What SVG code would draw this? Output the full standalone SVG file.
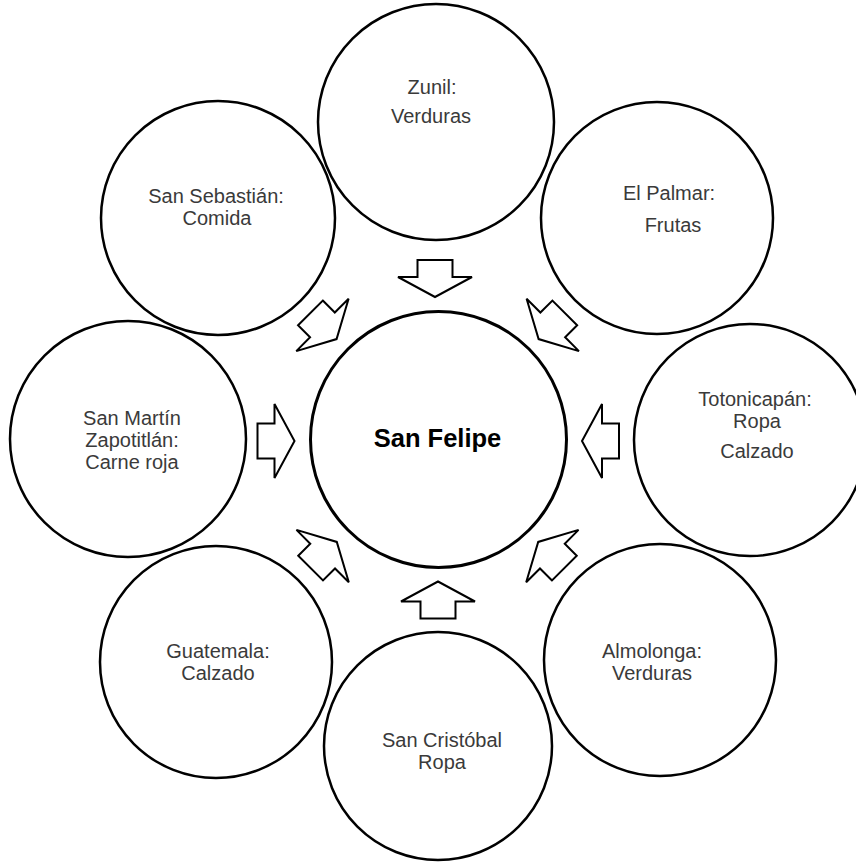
<svg xmlns="http://www.w3.org/2000/svg" width="856" height="863" viewBox="0 0 856 863">
<style>
.c{fill:#fff;stroke:#000;stroke-width:2.5}
.cc{fill:#fff;stroke:#000;stroke-width:3}
.t{font-family:"Liberation Sans",Arial,sans-serif;font-size:20px;fill:#3a3a3a;text-anchor:middle}
.b{font-family:"Liberation Sans",Arial,sans-serif;font-size:25.5px;font-weight:bold;fill:#000;text-anchor:middle}
.a{fill:#fff;stroke:#000;stroke-width:2;stroke-linejoin:miter}
</style>
<defs>
<path id="arr" d="M -18.5,-17.5 H -1.5 V -37 L 18.5,0 L -1.5,37 V 17.5 H -18.5 Z"/>
</defs>
<rect width="856" height="863" fill="#fff"/>
<g id="zunil"><circle class="c" cx="436" cy="122" r="118"/>
<text class="t" x="432" y="94">Zunil:</text><text class="t" x="431" y="123">Verduras</text></g>
<g id="el-palmar"><circle class="c" cx="657" cy="218" r="116"/>
<text class="t" x="669" y="200">El Palmar:</text><text class="t" x="673" y="232">Frutas</text></g>
<g id="totonicapan"><circle class="c" cx="750" cy="440" r="116"/>
<text class="t" x="755" y="406">Totonicapán:</text><text class="t" x="757" y="428">Ropa</text><text class="t" x="757" y="458">Calzado</text></g>
<g id="almolonga"><circle class="c" cx="660" cy="660" r="116"/>
<text class="t" x="652" y="658">Almolonga:</text><text class="t" x="652" y="680">Verduras</text></g>
<g id="san-cristobal"><circle class="c" cx="438" cy="746" r="114"/>
<text class="t" x="442" y="747">San Cristóbal</text><text class="t" x="442" y="769">Ropa</text></g>
<g id="guatemala"><circle class="c" cx="216" cy="662" r="116"/>
<text class="t" x="218" y="658">Guatemala:</text><text class="t" x="218" y="680">Calzado</text></g>
<g id="san-martin"><circle class="c" cx="128" cy="439" r="118"/>
<text class="t" x="132" y="425">San Martín</text><text class="t" x="132" y="447">Zapotitlán:</text><text class="t" x="132" y="469">Carne roja</text></g>
<g id="san-sebastian"><circle class="c" cx="218" cy="218" r="117"/>
<text class="t" x="216" y="203">San Sebastián:</text><text class="t" x="217" y="225">Comida</text></g>
<g id="san-felipe"><circle class="cc" cx="438.5" cy="439.5" r="128"/>
<text class="b" x="437.5" y="447">San Felipe</text></g>
<g id="connectors">
<use href="#arr" class="a" transform="translate(435,278.5) rotate(90)"/>
<use href="#arr" class="a" transform="translate(438,600) rotate(-90)"/>
<use href="#arr" class="a" transform="translate(276,441) rotate(0)"/>
<use href="#arr" class="a" transform="translate(600.5,441) rotate(180)"/>
<use href="#arr" class="a" transform="translate(323.5,326) rotate(45)"/>
<use href="#arr" class="a" transform="translate(551.7,326) rotate(135)"/>
<use href="#arr" class="a" transform="translate(323.7,555) rotate(-45)"/>
<use href="#arr" class="a" transform="translate(551.3,555) rotate(-135)"/>
</g>
</svg>
